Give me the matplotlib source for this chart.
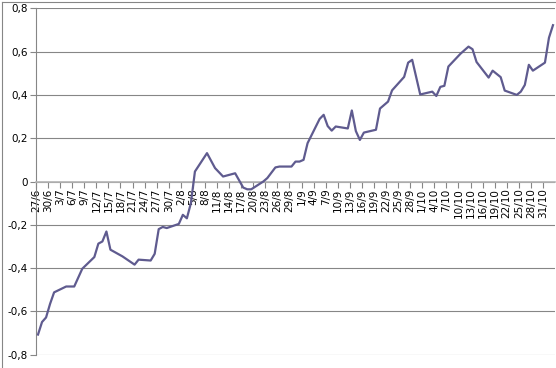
import matplotlib
matplotlib.use("Agg")
import matplotlib.pyplot as plt
import matplotlib.dates as mdates
from matplotlib.ticker import FuncFormatter, FixedLocator, FixedFormatter
from matplotlib.lines import Line2D
import pandas as pd

# ---- data ----
start_date = "2011-06-27"
day_offsets = [0, 1, 2, 3, 4, 7, 9, 11, 14, 15, 16, 17, 18, 21, 24, 25, 28, 29, 30, 31,
               32, 35, 36, 37, 38, 39, 42, 44, 46, 49, 51, 52, 53, 56, 57, 59, 60, 63, 64, 65,
               66, 67, 70, 71, 72, 73, 74, 77, 78, 79, 80, 81, 84, 85, 87, 88, 91, 92, 93, 95,
               98, 99, 100, 101, 102, 105, 107, 108, 109, 112, 113, 115, 116, 119, 120, 121, 122, 123, 126, 127,
               128]
values = [-0.707, -0.649, -0.628, -0.565, -0.512, -0.485, -0.485, -0.403, -0.349, -0.287,
          -0.277, -0.231, -0.315, -0.346, -0.384, -0.361, -0.365, -0.334, -0.220, -0.210,
          -0.215, -0.196, -0.154, -0.170, -0.100, 0.046, 0.131, 0.062, 0.023, 0.038,
          -0.028, -0.036, -0.036, 0.000, 0.016, 0.065, 0.069, 0.069, 0.092, 0.092,
          0.100, 0.177, 0.289, 0.308, 0.256, 0.235, 0.254, 0.245, 0.328, 0.233,
          0.192, 0.226, 0.239, 0.337, 0.369, 0.421, 0.483, 0.549, 0.562, 0.402,
          0.415, 0.395, 0.437, 0.442, 0.531, 0.590, 0.623, 0.611, 0.552, 0.480,
          0.512, 0.482, 0.420, 0.400, 0.415, 0.446, 0.539, 0.512, 0.549, 0.664,
          0.722]
tick_labels = ["27/6", "30/6", "3/7", "6/7", "9/7", "12/7", "15/7", "18/7", "21/7", "24/7",
               "27/7", "30/7", "2/8", "5/8", "8/8", "11/8", "14/8", "17/8", "20/8", "23/8",
               "26/8", "29/8", "1/9", "4/9", "7/9", "10/9", "13/9", "16/9", "19/9", "22/9",
               "25/9", "28/9", "1/10", "4/10", "7/10", "10/10", "13/10", "16/10", "19/10", "22/10",
               "25/10", "28/10", "31/10"]
y_ticks = [-0.8, -0.6, -0.4, -0.2, 0.0, 0.2, 0.4, 0.6, 0.8]

# ---- figure ----
fig = plt.figure(figsize=(5.56, 3.68), dpi=100)
fig.patch.set_facecolor("white")
ax = fig.add_axes([36 / 556, 13.3 / 368, 519 / 556, 346.4 / 368])

t0 = pd.Timestamp(start_date)
dates = t0 + pd.to_timedelta(day_offsets, unit="D")
xnum = mdates.date2num(dates.to_pydatetime()) + 0.5   # points sit between tick marks
x0 = mdates.date2num(t0.to_pydatetime())

ax.plot(xnum, values, color="#5f5b8f", lw=1.6, solid_joinstyle="round", zorder=3, clip_on=False)

ax.set_xlim(x0, x0 + 129)
ax.set_ylim(-0.8, 0.8)

tick_pos = [x0 + 3 * i for i in range(len(tick_labels))]
ax.xaxis.set_major_locator(FixedLocator(tick_pos))
ax.xaxis.set_major_formatter(FixedFormatter(tick_labels))
ax.set_yticks(y_ticks)
ax.yaxis.set_major_formatter(FuncFormatter(
    lambda v, p: "0" if abs(v) < 1e-9 else ("%.1f" % v).replace(".", ",")))
ax.tick_params(axis="y", labelsize=7.5, direction="out", length=4, width=0.8,
               color="#868686", pad=2)
ax.tick_params(axis="x", labelsize=7.5, labelrotation=90, direction="out", length=4,
               width=0.8, color="#868686", pad=1)

ax.yaxis.grid(True, color="#868686", lw=0.8, zorder=0)
ax.set_axisbelow(True)

for s in ["top", "right"]:
    ax.spines[s].set_visible(False)
ax.spines["left"].set_color("#868686")
ax.spines["left"].set_linewidth(0.8)
ax.spines["bottom"].set_position(("data", 0))
ax.spines["bottom"].set_color("#b4b4b4")
ax.spines["bottom"].set_linewidth(1.2)

fig.canvas.draw()
for lab in ax.get_xticklabels():
    lab.set_rotation(90)
    lab.set_va("top")
    lab.set_ha("center")

# chart-area border (left and top edges visible in reference)
fig.add_artist(Line2D([1.5 / 556, 1.5 / 556], [0, 1 - 1.5 / 368], color="#868686", lw=0.8))
fig.add_artist(Line2D([1.5 / 556, 1], [1 - 1.5 / 368, 1 - 1.5 / 368], color="#868686", lw=0.8))

fig.savefig("out.png", dpi=100)
